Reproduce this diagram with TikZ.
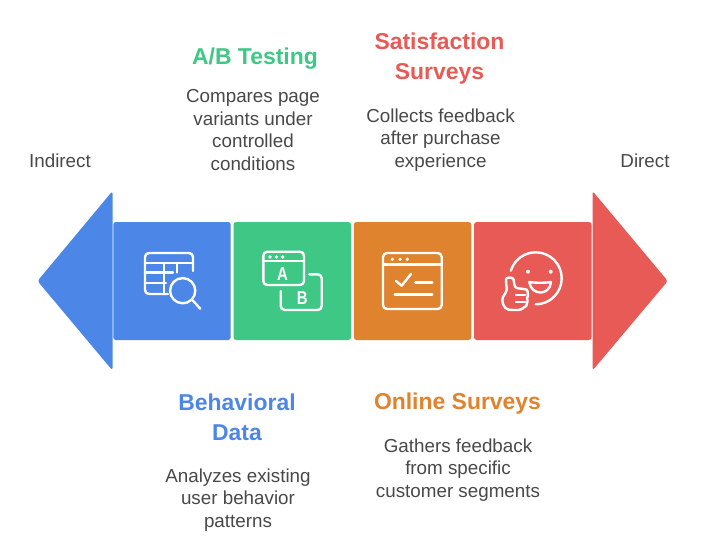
\documentclass[tikz,border=0pt]{standalone}
\usepackage{fontspec}
\setmainfont{Liberation Sans}
\usetikzlibrary{positioning}

\definecolor{bluec}{HTML}{4C86E6}
\definecolor{greenc}{HTML}{3FC785}
\definecolor{orangec}{HTML}{DF832F}
\definecolor{redc}{HTML}{E85A55}
\definecolor{textc}{HTML}{484848}

\tikzset{
  block/.style={minimum width=88.1pt,minimum height=88.5pt,inner sep=0pt,rounded corners=2pt},
  head/.style={font=\bfseries\fontsize{17.2}{22.5}\selectfont,align=center},
  body/.style={font=\fontsize{14.1}{16.9}\selectfont,align=center,text=textc},
  icon/.style={draw=white,line width=1.8pt,line cap=round,line join=round},
  letter/.style={text=white,font=\bfseries\fontsize{14}{14}\selectfont,inner sep=0pt,xscale=0.8}
}

\begin{document}
\begin{tikzpicture}[x=0.75pt,y=-0.75pt,node distance=2pt]

  \useasboundingbox (0,0) rectangle (706,553);

  \node[block,fill=bluec] (b1) at (172,281) {};
  \node[block,fill=greenc] (b2) [right=1.7pt of b1] {};
  \node[block,fill=orangec] (b3) [right=1.7pt of b2] {};
  \node[block,fill=redc] (b4) [right=1.7pt of b3] {};

  \fill[bluec,rounded corners=2pt] (112.5,191) -- (37.5,281) -- (112.5,370.5) -- cycle;
  \fill[redc,rounded corners=2pt] (592.5,191) -- (667.8,281) -- (592.5,370.5) -- cycle;

  \node[body] (ind) at (60,160.5) {Indirect};
  \node[body] (dir) at (645,160.5) {Direct};

  \node[head,text=greenc] (t2) at (255,59) {A/B Testing};
  \node[body] (d2) at (253,130) {Compares page\\variants under\\controlled\\conditions};
  \node[head,text=redc] (t4) at (439.5,58.5) {Satisfaction\\Surveys};
  \node[body] (d4) at (440.5,140) {Collects feedback\\after purchase\\experience};
  \node[head,text=bluec] (t1) at (237,417.5) {Behavioral\\Data};
  \node[body] (d1) at (238,500) {Analyzes existing\\user behavior\\patterns};
  \node[head,text=orangec] (t3) at (457.5,404) {Online Surveys};
  \node[body] (d3) at (458,470) {Gathers feedback\\from specific\\customer segments};

  % table and lens
  \draw[icon] (193,271) -- (193,257) arc (0:-90:4) -- (149,253) arc (-90:-180:4)
    -- (145,290) arc (180:90:4) -- (168,294);
  \draw[icon] (145,263) -- (193,263) (145,272.5) -- (173,272.5) (145,283) -- (166,283)
    (164,263) -- (164,294) (177,263) -- (177,272.5);
  \draw[icon] (182.7,290.7) circle (12.6);
  \draw[icon] (192.3,300) -- (200.3,308.7);

  % two windows
  \draw[icon,rounded corners=3pt] (263.3,251.7) rectangle (304,285);
  \draw[icon] (263.3,261) -- (304,261);
  \fill[white] (270,257) circle (1.8) (276.3,257) circle (1.8) (282.7,257) circle (1.8);
  \node[letter] (la) at (282.5,274.5) {A};
  \draw[icon,rounded corners=3pt] (309.3,274.3) -- (321.7,274.3) -- (321.7,310) -- (280.7,310) -- (280.7,291);
  \node[letter] (lb) at (302.3,298) {B};

  % checklist window
  \draw[icon,rounded corners=3pt] (383,253) rectangle (441.7,309);
  \draw[icon] (383,264.3) -- (441.7,264.3);
  \fill[white] (392.3,259.3) circle (1.8) (400,259.3) circle (1.8) (407.3,259.3) circle (1.8);
  \draw[icon] (396,281) -- (401.7,285.7) -- (411,274);
  \draw[icon] (415.3,282.3) -- (432.3,282.3) (394.7,294.3) -- (432.3,294.3);

  % smiley and thumb
  \draw[icon] (535.7,304.3) arc (90:-163:26);
  \fill[white] (528,271.7) circle (2) (550.7,271.7) circle (2);
  \draw[icon] (529.3,282) .. controls (535,283) and (545,283) .. (551,282)
    .. controls (550,296) and (531,296) .. cycle;
  \draw[icon,rounded corners=2pt] (507,291) -- (506,282) .. controls (506,277) and (513,277) .. (514,282)
    -- (515,288) -- (524,289) .. controls (528,290) and (528,296) .. (526,298)
    .. controls (528,301) and (526,306) .. (524,307) -- (521,310) -- (511,310)
    .. controls (504,309) and (501,301) .. (504,295) -- cycle;
  \draw[icon] (516,295) -- (525,295) (516,302) -- (525,302);
\end{tikzpicture}
\end{document}
